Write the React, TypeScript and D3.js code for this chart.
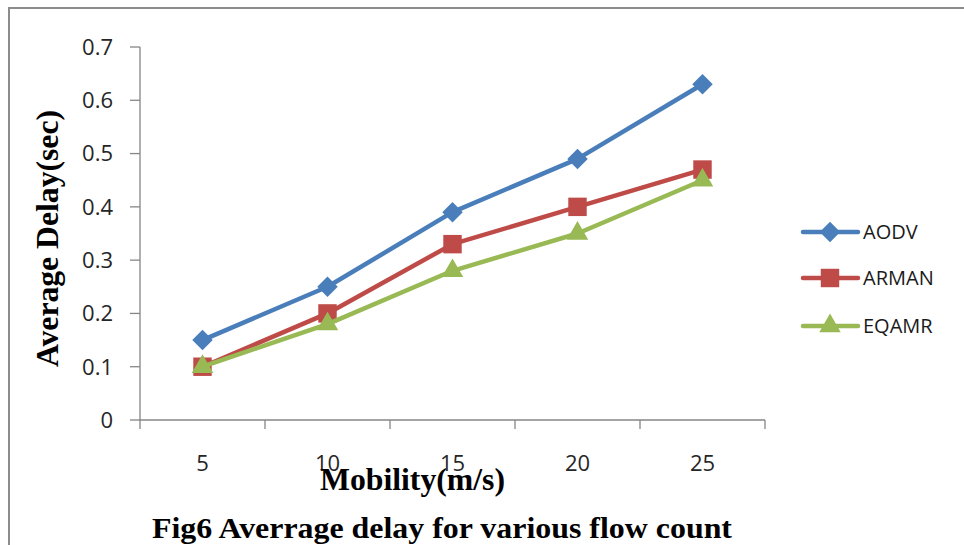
import React, { useEffect, useRef } from 'react';
import * as d3 from 'd3';

// Mobility (m/s) categories and average delay (sec) per protocol
const mobility = ['5', '10', '15', '20', '25'];
const aodv = [0.15, 0.25, 0.39, 0.49, 0.63];
const arman = [0.10, 0.20, 0.33, 0.40, 0.47];
const eqamr = [0.10, 0.18, 0.28, 0.35, 0.45];
const yTicks = [0, 0.1, 0.2, 0.3, 0.4, 0.5, 0.6, 0.7];
const seriesNames = ['AODV', 'ARMAN', 'EQAMR'];

const App = () => {
    const ref = useRef<SVGSVGElement | null>(null);

    useEffect(() => {
        const svg = d3.select(ref.current);
        svg.selectAll('*').remove();

        const tickFont = '"Open Sans", sans-serif';
        const serif = '"Liberation Serif", "Times New Roman", serif';
        const axisColor = '#868686';

        const series = [
            { name: seriesNames[0], values: aodv, color: '#4a7ebb', shape: 'diamond' },
            { name: seriesNames[1], values: arman, color: '#be4b48', shape: 'square' },
            { name: seriesNames[2], values: eqamr, color: '#98b954', shape: 'triangle' },
        ];

        const x = d3.scaleBand().domain(mobility).range([140, 765]);
        const y = d3.scaleLinear().domain([0, 0.7]).range([420, 47]);

        // outer frame (only left and top edges visible)
        svg.append('path')
            .attr('d', 'M9,545 L9,8 L964,8')
            .attr('fill', 'none')
            .attr('stroke', '#8c8c8c')
            .attr('stroke-width', 2);

        // y axis
        svg.append('line')
            .attr('x1', 140).attr('x2', 140)
            .attr('y1', y(0.7)).attr('y2', y(0))
            .attr('stroke', axisColor).attr('stroke-width', 1.3);
        yTicks.forEach(t => {
            svg.append('line')
                .attr('x1', 130).attr('x2', 140)
                .attr('y1', y(t)).attr('y2', y(t))
                .attr('stroke', axisColor).attr('stroke-width', 1.3);
            svg.append('text')
                .attr('x', 113)
                .attr('y', y(t))
                .attr('dy', '0.36em')
                .attr('text-anchor', 'end')
                .style('font-family', tickFont)
                .style('font-size', '22px')
                .style('fill', '#262626')
                .text(String(t));
        });

        // x axis
        svg.append('line')
            .attr('x1', 140).attr('x2', 765)
            .attr('y1', y(0)).attr('y2', y(0))
            .attr('stroke', axisColor).attr('stroke-width', 1.3);
        const bounds = mobility.map(c => x(c) as number).concat([x.range()[1]]);
        bounds.forEach(b => {
            svg.append('line')
                .attr('x1', b).attr('x2', b)
                .attr('y1', y(0)).attr('y2', y(0) + 9)
                .attr('stroke', axisColor).attr('stroke-width', 1.3);
        });
        mobility.forEach(c => {
            svg.append('text')
                .attr('x', (x(c) as number) + x.bandwidth() / 2)
                .attr('y', 471)
                .attr('text-anchor', 'middle')
                .style('font-family', tickFont)
                .style('font-size', '22px')
                .style('fill', '#262626')
                .text(c);
        });

        const symbolFor = (shape: string) => {
            if (shape === 'diamond') return d3.symbol().type(d3.symbolSquare).size(210)();
            if (shape === 'square') return d3.symbol().type(d3.symbolSquare).size(340)();
            return d3.symbol().type(d3.symbolTriangle).size(200)();
        };

        const line = d3.line<number>()
            .x((d, i) => (x(mobility[i]) as number) + x.bandwidth() / 2)
            .y(d => y(d));

        series.forEach(s => {
            svg.append('path')
                .attr('d', line(s.values))
                .attr('fill', 'none')
                .attr('stroke', s.color)
                .attr('stroke-width', 4.5)
                .attr('stroke-linejoin', 'round');
            s.values.forEach((v, i) => {
                const cx = (x(mobility[i]) as number) + x.bandwidth() / 2;
                svg.append('path')
                    .attr('d', symbolFor(s.shape))
                    .attr('transform', `translate(${cx},${y(v)})${s.shape === 'diamond' ? ' rotate(45)' : ''}`)
                    .attr('fill', s.color);
            });
        });

        // legend
        const legendY = [232, 278, 326];
        series.forEach((s, i) => {
            svg.append('line')
                .attr('x1', 803).attr('x2', 858)
                .attr('y1', legendY[i]).attr('y2', legendY[i])
                .attr('stroke', s.color)
                .attr('stroke-width', 4.5)
                .attr('stroke-linecap', 'round');
            svg.append('path')
                .attr('d', symbolFor(s.shape))
                .attr('transform', `translate(830,${legendY[i]})${s.shape === 'diamond' ? ' rotate(45)' : ''}`)
                .attr('fill', s.color);
            svg.append('text')
                .attr('x', 863)
                .attr('y', legendY[i])
                .attr('dy', '0.36em')
                .style('font-family', tickFont)
                .style('font-size', '20px')
                .style('fill', '#1a1a1a')
                .text(s.name);
        });

        // axis titles
        svg.append('text')
            .attr('x', 320)
            .attr('y', 490)
            .attr('textLength', 185)
            .attr('lengthAdjust', 'spacingAndGlyphs')
            .style('font-family', serif)
            .style('font-weight', '700')
            .style('font-size', '31px')
            .text('Mobility(m/s)');

        svg.append('text')
            .attr('transform', 'translate(58,367) rotate(-90)')
            .attr('textLength', 257)
            .attr('lengthAdjust', 'spacingAndGlyphs')
            .style('font-family', serif)
            .style('font-weight', '700')
            .style('font-size', '31px')
            .text('Average Delay(sec)');

        svg.append('text')
            .attr('x', 152)
            .attr('y', 538)
            .attr('textLength', 580)
            .attr('lengthAdjust', 'spacingAndGlyphs')
            .style('font-family', serif)
            .style('font-weight', '700')
            .style('font-size', '30px')
            .text('Fig6 Averrage delay for various flow count');
    }, []);

    return (
        <svg
            ref={ref}
            width={964}
            height={545}
            style={{ position: 'absolute', left: 0, top: 0, background: '#fff' }}
        />
    );
};

export default App;
